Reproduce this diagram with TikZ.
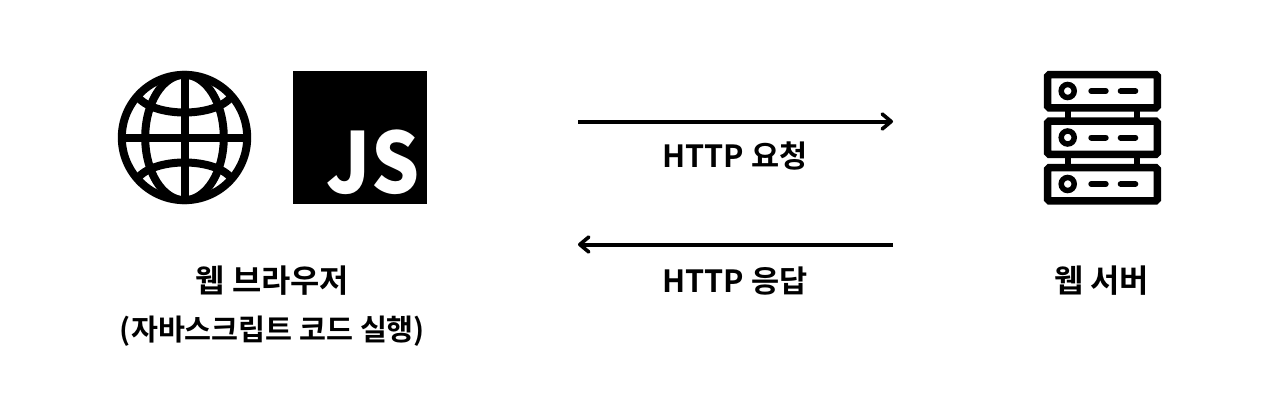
\documentclass[tikz,border=0pt]{standalone}
\usepackage{fontspec}
\setmainfont{Noto Sans CJK KR}[BoldFont={Noto Sans CJK KR Bold}]
\newfontfamily\jsfont{Noto Sans CJK KR Black}
\usetikzlibrary{arrows.meta}
\tikzset{
  ink/.style={draw=black,line width=#1},
  label http/.style={font=\fontsize{30.6}{36}\selectfont\bfseries,inner sep=0pt,text=black},
  label big/.style={font=\fontsize{31.8}{36}\selectfont\bfseries,inner sep=0pt,text=black},
  label small/.style={font=\fontsize{29.3}{34}\selectfont\bfseries,inner sep=0pt,text=black},
  flow/.style={draw=black,line width=4pt,-{Straight Barb[length=9pt,width=15pt,line width=3.6pt,round]}},
}
\begin{document}
\begin{tikzpicture}[x=1pt,y=-1pt]
\useasboundingbox (0,0) rectangle (1280,420);
% globe
\begin{scope}[ink=8pt]
\draw (184.5,137.5) circle (62.7);
\draw (184.5,137.5) ellipse (39.3 and 62.7);
\draw (184.5,74.5) -- (184.5,200.5);
\draw (121.5,137.5) -- (247.5,137.5);
\draw (137,96) .. controls (153,118) and (216,118) .. (232,96);
\draw (137,179) .. controls (153,157) and (216,157) .. (232,179);
\end{scope}
% JS tile
\fill[black] (293,71) rectangle (427,204);
\node (js) [anchor=base,inner sep=0pt,text=white,xscale=0.9,font=\fontsize{84}{84}\selectfont\jsfont] at (373,193) {JS};
% server
\foreach \y in {71,117.5,164}{
  \draw[ink=7.5pt,rounded corners=1.5pt] (1047.7,\y+3.7) rectangle (1157.3,\y+36.8);
  \draw[ink=5.5pt] (1067.7,\y+20) circle (6.5);
  \draw[ink=6pt,line cap=round] (1091.3,\y+20) -- (1105.7,\y+20);
  \draw[ink=6pt,line cap=round] (1120.7,\y+20) -- (1135.3,\y+20);
}
\foreach \y in {111,157.5}{
  \draw[ink=6pt] (1067.7,\y) -- (1067.7,\y+7);
  \draw[ink=6pt] (1137.3,\y) -- (1137.3,\y+7);
}
% arrows
\coordinate (reqa) at (578,121.5);
\coordinate (reqb) at (893,121.5);
\coordinate (resa) at (893,244.5);
\coordinate (resb) at (578,244.5);
\draw[flow] (reqa) -- (reqb);
\draw[flow] (resa) -- (resb);
% labels
\node (req) [label http] at (735,156) {HTTP 요청};
\node (res) [label http] at (735,281) {HTTP 응답};
\node (browser) [label big] at (272.5,281) {웹 브라우저};
\node (js run) [label small] at (272.5,331) {(자바스크립트 코드 실행)};
\node (server) [label big] at (1101.5,281) {웹 서버};
\end{tikzpicture}
\end{document}
